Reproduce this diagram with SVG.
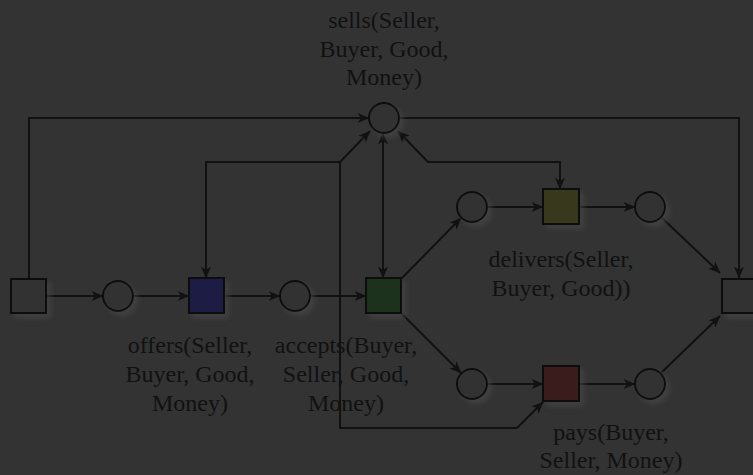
<svg xmlns="http://www.w3.org/2000/svg" width="753" height="475" viewBox="0 0 753 475">
  <defs>
    <marker id="arrow" viewBox="0 0 12 10" refX="11.5" refY="5" markerWidth="12" markerHeight="10" markerUnits="userSpaceOnUse" orient="auto-start-reverse">
      <path d="M0,0 L12,5 L0,10 L3.5,5 z" fill="#111"/>
    </marker>
    <filter id="shadow" x="-30%" y="-30%" width="170%" height="170%">
      <feDropShadow dx="4" dy="4" stdDeviation="2.5" flood-color="#4a4a4a" flood-opacity="0.6"/>
    </filter>
  </defs>
  <style>
    .bg { fill: #333333; }
    .place { fill: #333333; stroke: #111; stroke-width: 2; filter: url(#shadow); }
    .trans { stroke: #111; stroke-width: 2; filter: url(#shadow); }
    .edge { fill: none; stroke: #111; stroke-width: 2; }
    .arc { fill: none; stroke: #111; stroke-width: 2; marker-end: url(#arrow); }
    .both { fill: none; stroke: #111; stroke-width: 2; marker-start: url(#arrow); marker-end: url(#arrow); }
    .label { font-family: "Liberation Serif", "Times New Roman", serif; font-size: 24px; fill: #111; text-anchor: middle; }
  </style>

  <rect class="bg" x="0" y="0" width="753" height="475"/>

  <!-- connectors -->
  <g id="connectors">
    <!-- start transition to sells, sells to end transition -->
    <path class="arc" d="M29,278 L29,118 L369,118"/>
    <path class="arc" d="M399,118 L739,118 L739,278"/>
    <!-- main chain -->
    <path class="arc" d="M47,296 L103,296"/>
    <path class="arc" d="M133,296 L189,296"/>
    <path class="arc" d="M224,296 L280,296"/>
    <path class="arc" d="M310,296 L366,296"/>
    <!-- branch after accepts -->
    <path class="arc" d="M402,278 L461,218"/>
    <path class="arc" d="M402,314 L461,373"/>
    <path class="arc" d="M487,207 L543,207"/>
    <path class="arc" d="M579,207 L635,207"/>
    <path class="arc" d="M487,384 L543,384"/>
    <path class="arc" d="M579,384 L635,384"/>
    <path class="arc" d="M662,218 L720,273"/>
    <path class="arc" d="M662,372 L720,316"/>
    <!-- arcs between sells and the transitions -->
    <path class="both" d="M206,278 L206,162 L340,162 L370,131"/>
    <path class="edge" d="M340,162 L340,428 L517,428"/>
    <path class="arc" d="M517,428 L543,402"/>
    <path class="both" d="M383,278 L383,133"/>
    <path class="both" d="M560,189 L560,162 L428,162 L398,131"/>
  </g>

  <!-- places -->
  <g id="p-sells"><circle class="place" cx="384" cy="118" r="15"/></g>
  <g id="p1"><circle class="place" cx="118" cy="296" r="15"/></g>
  <g id="p2"><circle class="place" cx="295" cy="296" r="15"/></g>
  <g id="p3"><circle class="place" cx="472" cy="207" r="15"/></g>
  <g id="p4"><circle class="place" cx="650" cy="207" r="15"/></g>
  <g id="p5"><circle class="place" cx="472" cy="384" r="15"/></g>
  <g id="p6"><circle class="place" cx="650" cy="384" r="15"/></g>

  <!-- transitions -->
  <g id="t-start"><rect class="trans" x="11" y="279" width="35" height="34" fill="#333333"/></g>
  <g id="t-offers"><rect class="trans" x="189" y="278" width="35" height="35" fill="#1c1e44"/></g>
  <g id="t-accepts"><rect class="trans" x="366" y="278" width="35" height="35" fill="#1b321f"/></g>
  <g id="t-delivers"><rect class="trans" x="543" y="189" width="36" height="35" fill="#38381c"/></g>
  <g id="t-pays"><rect class="trans" x="543" y="366" width="36" height="35" fill="#3a1a1c"/></g>
  <g id="t-end"><rect class="trans" x="722" y="279" width="40" height="34" fill="#333333"/></g>

  <!-- labels -->
  <g id="labels">
    <text class="label" x="384" y="28">sells(Seller,</text>
    <text class="label" x="384" y="57">Buyer, Good,</text>
    <text class="label" x="384" y="85">Money)</text>

    <text class="label" x="561" y="267">delivers(Seller,</text>
    <text class="label" x="561" y="296">Buyer, Good))</text>

    <text class="label" x="190" y="353">offers(Seller,</text>
    <text class="label" x="190" y="382">Buyer, Good,</text>
    <text class="label" x="190" y="411">Money)</text>

    <text class="label" x="346" y="353">accepts(Buyer,</text>
    <text class="label" x="346" y="382">Seller, Good,</text>
    <text class="label" x="346" y="411">Money)</text>

    <text class="label" x="611" y="440">pays(Buyer,</text>
    <text class="label" x="611" y="468">Seller, Money)</text>
  </g>
</svg>
